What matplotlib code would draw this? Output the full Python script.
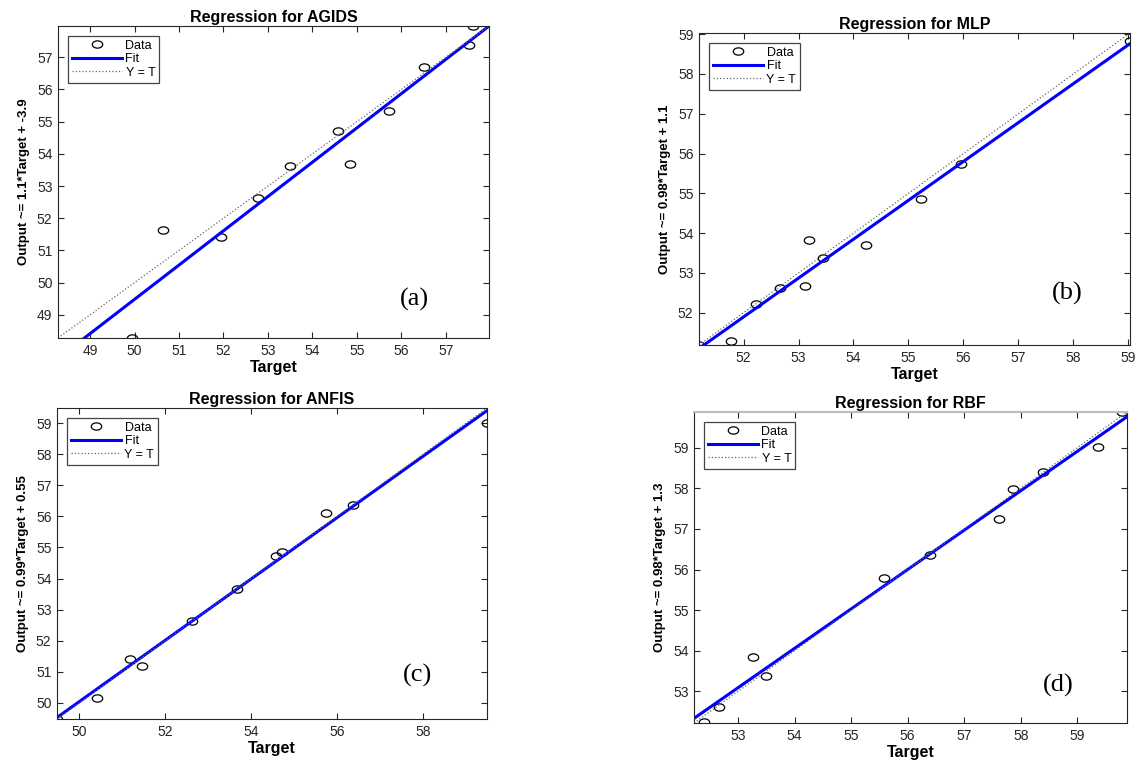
import numpy as np
import matplotlib
matplotlib.use("Agg")
import matplotlib.pyplot as plt
from matplotlib.path import Path

plt.rcParams['font.family'] = ['Liberation Sans', 'DejaVu Sans']

# Panel (a) AGIDS
agids_target = [49.94, 50.63, 51.94, 52.77, 53.49, 54.58, 54.84, 55.73, 56.51, 57.52, 57.60]
agids_output = [48.28, 51.62, 51.41, 52.63, 53.62, 54.71, 53.67, 55.33, 56.69, 57.38, 57.97]
agids_fit = (1.065, -3.77)
agids_lim = (48.28, 57.97)

# Panel (b) MLP
mlp_target = [51.19, 51.78, 52.23, 52.66, 53.11, 53.19, 53.44, 54.23, 55.22, 55.95, 59.03]
mlp_output = [51.20, 51.29, 52.23, 52.63, 52.67, 53.84, 53.38, 53.70, 54.85, 55.74, 58.84]
mlp_fit = (0.977, 1.09)
mlp_lim = (51.19, 59.03)

# Panel (c) ANFIS
anfis_target = [49.48, 50.41, 51.17, 51.46, 52.62, 53.66, 54.57, 54.71, 55.74, 56.37, 59.49]
anfis_output = [49.48, 50.16, 51.41, 51.19, 52.62, 53.65, 54.73, 54.84, 56.11, 56.37, 59.01]
anfis_fit = (0.987, 0.69)
anfis_lim = (49.48, 59.49)

# Panel (d) RBF
rbf_target = [52.40, 52.66, 53.26, 53.49, 55.59, 56.40, 57.61, 57.86, 58.39, 59.37, 59.80]
rbf_output = [52.24, 52.62, 53.84, 53.38, 55.80, 56.37, 57.24, 57.98, 58.40, 59.02, 59.88]
rbf_fit = (0.97, 1.68)
rbf_lim = (52.22, 59.88)

titles = ['Regression for AGIDS', 'Regression for MLP', 'Regression for ANFIS', 'Regression for RBF']
ylabels = ['Output ~= 1.1*Target + -3.9', 'Output ~= 0.98*Target + 1.1',
           'Output ~= 0.99*Target + 0.55', 'Output ~= 0.98*Target + 1.3']
tags = ['(a)', '(b)', '(c)', '(d)']
xticks_list = [range(49, 58), range(52, 60), range(50, 59, 2), range(53, 60)]
yticks_list = [range(49, 58), range(52, 60), range(50, 60), range(53, 60)]

panels = [
    (agids_target, agids_output, agids_fit, agids_lim),
    (mlp_target, mlp_output, mlp_fit, mlp_lim),
    (anfis_target, anfis_output, anfis_fit, anfis_lim),
    (rbf_target, rbf_output, rbf_fit, rbf_lim),
]

# axes boxes in pixels: left, right, top, bottom
W, H = 1136, 760
boxes = [(58, 489, 26, 338), (699, 1130, 33, 345), (57, 487, 408, 719), (694, 1127, 412, 723)]
tag_pos = [(0.826, 0.122), (0.855, 0.166), (0.839, 0.141), (0.841, 0.122)]

# the source image is stretched sideways, so circles look like flat ellipses
uc = Path.unit_circle()
oval = Path(uc.vertices * np.array([1.0, 0.7]), uc.codes)

fig = plt.figure(figsize=(W / 100, H / 100), dpi=100)

for i, (t, o, fit, lim) in enumerate(panels):
    l, r, tp, b = boxes[i]
    ax = fig.add_axes([l / W, 1 - b / H, (r - l) / W, (b - tp) / H])
    xs = np.array(lim)
    ax.plot(t, o, linestyle='none', marker=oval, mfc='none', mec='black', ms=7.5, mew=0.9,
            label='Data')
    ax.plot(xs, fit[0] * xs + fit[1], color='#0000ff', lw=2.2, label='Fit')
    ax.plot(xs, xs, ':', color='#666666', lw=0.9, label='Y = T')
    ax.set_xlim(lim)
    ax.set_ylim(lim)
    ax.set_xticks(list(xticks_list[i]))
    ax.set_yticks(list(yticks_list[i]))
    ax.tick_params(direction='in', top=True, right=True, labelsize=10,
                   colors='#262626', length=4, width=0.8, pad=4)
    for sp in ax.spines.values():
        sp.set_color('#262626')
        sp.set_linewidth(0.8)
    if i == 3:
        ax.spines['top'].set_color('#bdbdbd')
        ax.spines['top'].set_linewidth(1.5)
    ax.set_title(titles[i], fontsize=11.5, fontweight='bold', pad=3)
    ax.set_xlabel('Target', fontsize=11.5, fontweight='bold', labelpad=2)
    ax.set_ylabel(ylabels[i], fontsize=9.5, fontweight='bold', labelpad=5)
    leg = ax.legend(loc='upper left', fontsize=9, fancybox=False, framealpha=1,
                    edgecolor='#444444', borderaxespad=0.8, handlelength=4.0,
                    handletextpad=0.3, labelspacing=0.12, borderpad=0.3)
    leg.get_frame().set_linewidth(0.9)
    ax.text(tag_pos[i][0], tag_pos[i][1], tags[i], transform=ax.transAxes,
            fontsize=19, family='Liberation Serif', ha='center', va='center')

fig.savefig('out.png', dpi=100)
